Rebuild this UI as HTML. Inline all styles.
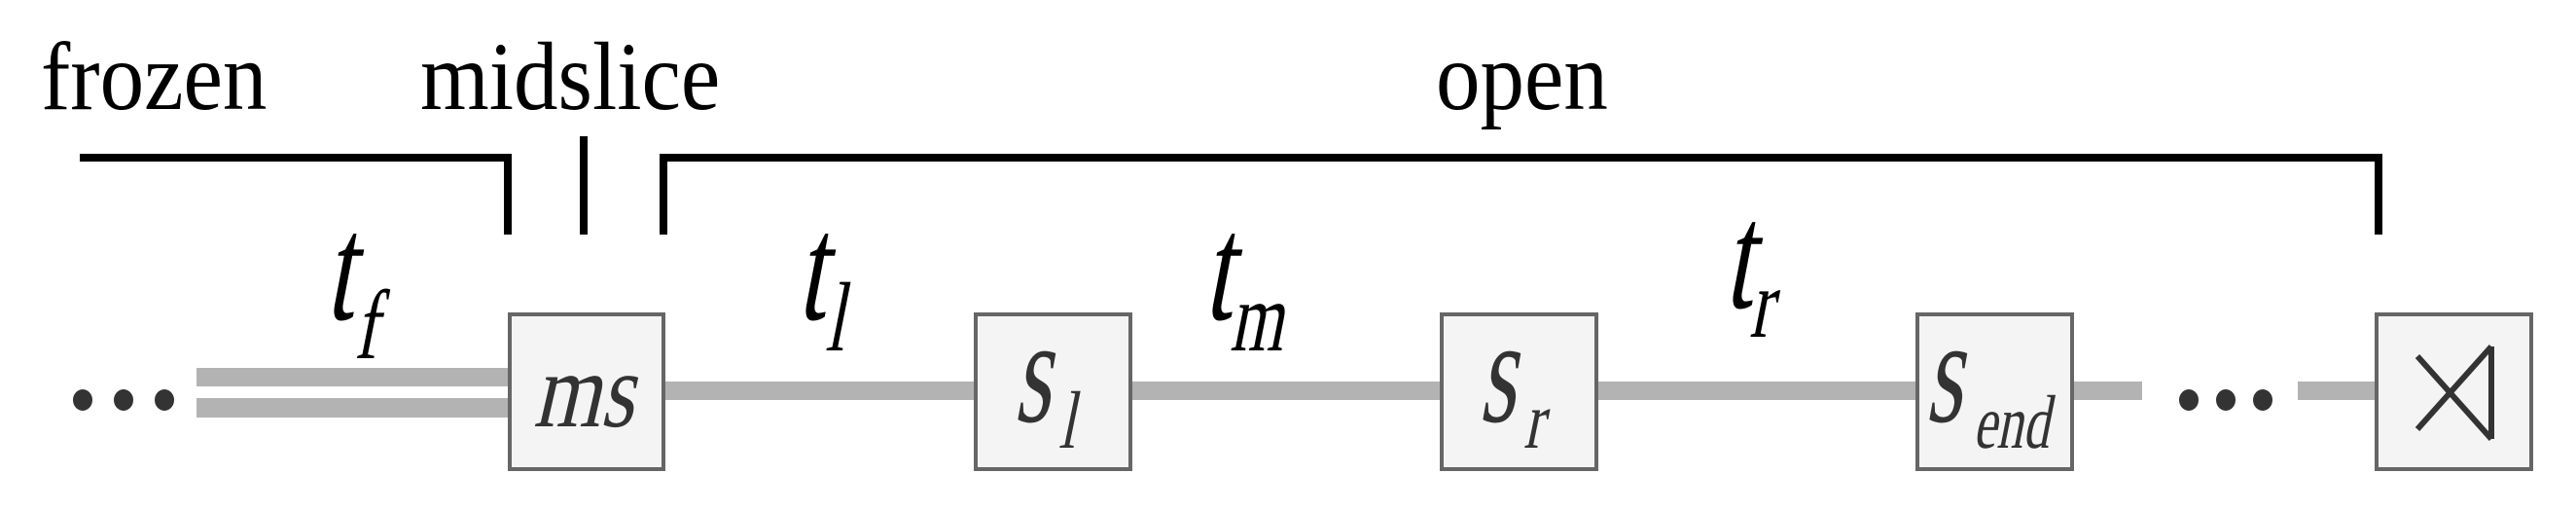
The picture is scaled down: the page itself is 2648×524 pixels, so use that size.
<!DOCTYPE html>
<html><head><meta charset="utf-8"><style>
html,body{margin:0;padding:0;background:#fff;}
svg{display:block;}
text{font-family:"Liberation Serif","Times New Roman",serif;}
</style></head><body>
<svg width="2648" height="524" viewBox="0 0 2648 524">
<g font-size="91" fill="#000">
<text transform="translate(42,112) scale(1,1.1)">frozen</text>
<text transform="translate(432,112) scale(1,1.1)">midslice</text>
<text transform="translate(1476,112) scale(1,1.1)">open</text>
</g>
<g stroke="#000" stroke-width="8" fill="none">
<polyline points="82,162 522,162 522,241"/>
<line x1="600" y1="140" x2="600" y2="241"/>
<polyline points="682,241 682,162 2445,162 2445,241"/>
</g>
<g fill="#b3b3b3">
<rect x="202" y="378" width="322" height="19"/>
<rect x="202" y="409" width="322" height="20"/>
<rect x="682" y="392" width="322" height="19"/>
<rect x="1162" y="392" width="322" height="19"/>
<rect x="1641" y="392" width="331" height="19"/>
<rect x="2130" y="392" width="72" height="19"/>
<rect x="2362" y="392" width="82" height="19"/>
</g>
<g fill="#333">
<ellipse cx="85" cy="411" rx="10" ry="11"/><ellipse cx="127" cy="411" rx="10" ry="11"/><ellipse cx="169" cy="411" rx="10" ry="11"/>
<ellipse cx="2250" cy="411" rx="10" ry="11"/><ellipse cx="2288" cy="411" rx="10" ry="11"/><ellipse cx="2326" cy="411" rx="10" ry="11"/>
</g>
<g fill="#f4f4f4" stroke="#666" stroke-width="4">
<rect x="524" y="323" width="158" height="159"/>
<rect x="1003" y="323" width="159" height="159"/>
<rect x="1482" y="323" width="159" height="159"/>
<rect x="1971" y="323" width="159" height="159"/>
<rect x="2443" y="323" width="159" height="159"/>
</g>
<g fill="#333">
<text transform="translate(548,438) scale(1,1.25) skewX(-16)" font-size="88">ms</text>
<text transform="translate(1042,433) scale(1,1.6) skewX(-16)" font-size="96">s</text>
<text transform="translate(1088,460) scale(1,1.4) skewX(-16)" font-size="60">l</text>
<text transform="translate(1520,433) scale(1,1.6) skewX(-16)" font-size="96">s</text>
<text transform="translate(1566,460) scale(1,1.4) skewX(-16)" font-size="60">r</text>
<text transform="translate(1979,433) scale(1,1.6) skewX(-16)" font-size="96">s</text>
<text transform="translate(2028,460) scale(1,1.45) skewX(-16)" font-size="54">end</text>
</g>
<g stroke="#333" stroke-width="6" fill="none">
<line x1="2561" y1="356" x2="2485" y2="441"/>
<line x1="2485" y1="366" x2="2561" y2="451"/>
<line x1="2561" y1="356" x2="2561" y2="451"/>
</g>
<g fill="#000">
<text transform="translate(334,328) scale(1,1.5) skewX(-16)" font-size="104">t</text>
<text transform="translate(364,368) scale(1,1.45) skewX(-16)" font-size="70">f</text>
<text transform="translate(819,328) scale(1,1.5) skewX(-16)" font-size="104">t</text>
<text transform="translate(848,360) scale(1,1.45) skewX(-16)" font-size="70">l</text>
<text transform="translate(1237,328) scale(1,1.5) skewX(-16)" font-size="104">t</text>
<text transform="translate(1264,360) scale(1,1.45) skewX(-16)" font-size="70">m</text>
<text transform="translate(1772,316) scale(1,1.5) skewX(-16)" font-size="104">t</text>
<text transform="translate(1798,346) scale(1,1.45) skewX(-16)" font-size="70">r</text>
</g>
</svg>
</body></html>
